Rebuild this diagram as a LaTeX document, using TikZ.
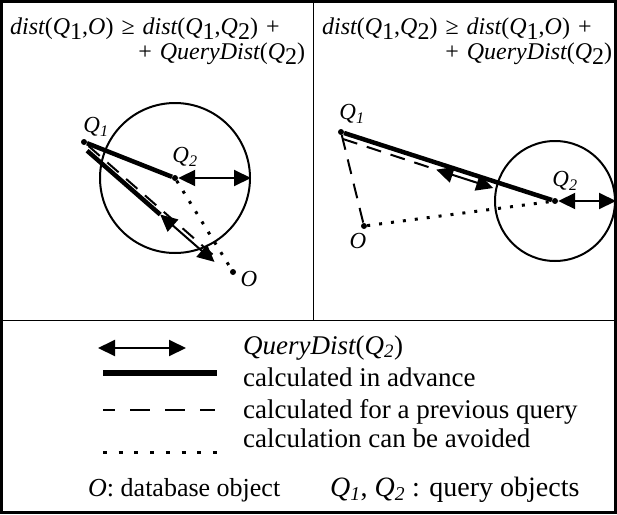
\documentclass[tikz,border=0pt]{standalone}
\usepackage{fontspec}
\setmainfont{Liberation Serif}
\usetikzlibrary{arrows.meta}
\newcommand\bigsub[1]{\raisebox{-0.22em}{\upshape #1}}
\newcommand\pushright{\hspace*{0pt plus 1filll}}
\begin{document}
\begin{tikzpicture}[x=1pt,y=-1pt,
  frame/.style={line width=3pt},
  divider/.style={line width=1pt},
  thickline/.style={line width=4.5pt},
  dashline/.style={line width=2pt, dash pattern=on 15pt off 10pt},
  dotline/.style={line width=3pt, dash pattern=on 3pt off 9pt},
  qdist/.style={line width=2pt, {Triangle[length=17pt,width=16pt]}-{Triangle[length=17pt,width=16pt]}},
  ptdot/.style={circle, fill, inner sep=0pt, minimum size=6pt},
  ring/.style={draw, circle, line width=2pt, inner sep=0pt},
  lbl/.style={font=\fontsize{23}{23}\selectfont\itshape, inner sep=0pt},
  formula/.style={font=\fontsize{24}{25}\selectfont, inner sep=0pt, align=left, anchor=base west},
  legtext/.style={font=\fontsize{27}{27}\selectfont, inner sep=0pt, anchor=base west}
]
\useasboundingbox (0,0) rectangle (617,514);
% frame and dividers
\draw[frame] (1.5,1.5) rectangle (615.5,512.5);
\coordinate (dtop) at (313,1.5);
\coordinate (dmid) at (313,320);
\coordinate (hl) at (1.5,320);
\coordinate (hr) at (615.5,320);
\draw[divider] (dtop) -- (dmid);
\draw[divider] (hl) -- (hr);

% formulas
\node[formula, text width=295pt] (f1) at (10,34) {\itshape dist\upshape(\itshape Q\bigsub{1}\upshape,\itshape O\upshape) ≥ \itshape dist\upshape(\itshape Q\bigsub{1}\upshape,\itshape Q\bigsub{2}\upshape) +\\
\pushright + \itshape QueryDist\upshape(\itshape Q\bigsub{2}\upshape)};
\node[formula, text width=290pt] (f2) at (322,34) {\itshape dist\upshape(\itshape Q\bigsub{1}\upshape,\itshape Q\bigsub{2}\upshape) ≥ \itshape dist\upshape(\itshape Q\bigsub{1}\upshape,\itshape O\upshape) +\\
\pushright + \itshape QueryDist\upshape(\itshape Q\bigsub{2}\upshape)};

% ---- left panel
\node[ptdot] (q1l) at (84,142) {};
\node[ptdot] (q2l) at (175,178) {};
\node[ptdot] (ol) at (233,272) {};
\node[ring, minimum size=150pt] (c1) at (q2l) {};
\coordinate (la) at (87.1,150.7);
\coordinate (lb) at (160.2,214.5);
\coordinate (lc) at (214.5,261.9);
\coordinate (ld) at (88.5,146);
\coordinate (le) at (212.5,254.5);
\draw[dashline] (ld) -- (le);
\draw[thickline] (q1l) -- (q2l);
\draw[thickline] (la) -- (lb);
\draw[qdist] (lb) -- (lc);
\draw[dotline] (q2l) -- (ol);
\draw[qdist] (q2l) -- (c1.east);
\node[lbl] (lq1) at (96,127) {Q\textsubscript{1}};
\node[lbl] (lq2) at (185,157) {Q\textsubscript{2}};
\node[lbl] (lo) at (249,279) {O};

% ---- right panel
\node[ptdot] (q1r) at (341,132) {};
\node[ptdot] (q2r) at (555,201) {};
\node[ptdot] (or) at (364,226) {};
\node[ring, minimum size=120pt] (c2) at (q2r) {};
\coordinate (ra) at (343.0,139);
\coordinate (rb) at (436.2,169.6);
\coordinate (rc) at (493.3,188);
\draw[dashline] (q1r) -- (or);
\draw[dashline] (ra) -- (rb);
\draw[thickline] (q1r) -- (q2r);
\draw[qdist] (rb) -- (rc);
\draw[dotline] (or) -- (q2r);
\draw[qdist] (q2r) -- (c2.east);
\node[lbl] (rq1) at (352,114) {Q\textsubscript{1}};
\node[lbl] (rq2) at (565,181) {Q\textsubscript{2}};
\node[lbl] (ro) at (358,241) {O};

% ---- legend
\coordinate (k1a) at (98,348);  \coordinate (k1b) at (186,348);
\coordinate (k2a) at (103,373); \coordinate (k2b) at (217,373);
\coordinate (k3a) at (103,410); \coordinate (k3b) at (215,410);
\coordinate (k4a) at (103,452); \coordinate (k4b) at (217,452);
\draw[qdist] (k1a) -- (k1b);
\draw[line width=5.5pt] (k2a) -- (k2b);
\draw[line width=2.5pt, dash pattern=on 20pt off 15pt, dash phase=8pt] (k3a) -- (k3b);
\draw[line width=3pt, dash pattern=on 4pt off 11.7pt] (k4a) -- (k4b);
\node[legtext] (t1) at (243,354) {\itshape QueryDist\upshape(\itshape Q\textsubscript{2}\upshape)};
\node[legtext] (t2) at (243,386) {calculated in advance};
\node[legtext] (t3) at (243,418) {calculated for a previous query};
\node[legtext] (t4) at (243,447) {calculation can be avoided};
\node[legtext, font=\fontsize{26}{26}\selectfont] (t5) at (88,496) {\itshape O\upshape: database object};
\node[legtext, font=\fontsize{28}{28}\selectfont] (t6) at (330,496) {\itshape Q\textsubscript{1}\upshape, \itshape Q\textsubscript{2}\upshape\ : query objects};
\end{tikzpicture}
\end{document}
